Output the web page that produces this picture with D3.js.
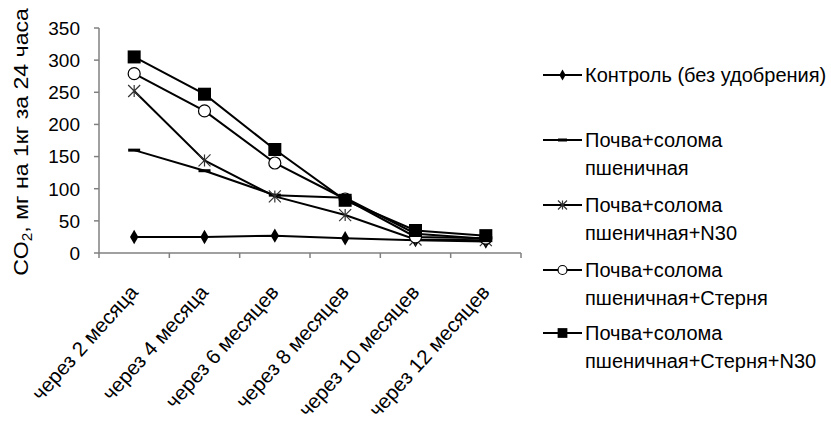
<!DOCTYPE html>
<html>
<head>
<meta charset="utf-8">
<script src="https://cdn.jsdelivr.net/npm/d3@7"></script>
<style>
  body { margin: 0; background: #fff; }
  text { font-family: "Liberation Sans", Arial, sans-serif; fill: #000; }
</style>
</head>
<body>
<div id="chart"></div>
<script>
// Data
const categories = ["через 2 месяца", "через 4 месяца", "через 6 месяцев", "через 8 месяцев", "через 10 месяцев", "через 12 месяцев"];
const control = [25, 25, 27, 23, 20, 18];
const straw = [160, 128, 90, 86, 30, 22];
const strawN30 = [252, 144, 88, 59, 21, 20];
const strawStubble = [279, 221, 140, 84, 25, 23];
const strawStubbleN30 = [305, 247, 161, 82, 35, 27];
const seriesNames = [
  ["Контроль (без удобрения)"],
  ["Почва+солома", "пшеничная"],
  ["Почва+солома", "пшеничная+N30"],
  ["Почва+солома", "пшеничная+Стерня"],
  ["Почва+солома", "пшеничная+Стерня+N30"]
];
const yTicks = [0, 50, 100, 150, 200, 250, 300, 350];

const series = [
  { name: seriesNames[0], values: control, marker: "diamond" },
  { name: seriesNames[1], values: straw, marker: "dash" },
  { name: seriesNames[2], values: strawN30, marker: "star" },
  { name: seriesNames[3], values: strawStubble, marker: "circle" },
  { name: seriesNames[4], values: strawStubbleN30, marker: "square" }
];

// Config
const width = 831, height = 425;
const plot = { left: 99, right: 521, top: 28, bottom: 253 };

const svg = d3.select("#chart").append("svg")
  .attr("width", width)
  .attr("height", height);

const x = d3.scaleBand().domain(categories).range([plot.left, plot.right]);
const y = d3.scaleLinear().domain([0, 350]).range([plot.bottom, plot.top]);

// Axes
const axisColor = "#808080";
svg.append("line")
  .attr("x1", plot.left).attr("x2", plot.left)
  .attr("y1", y(350)).attr("y2", y(0))
  .attr("stroke", axisColor).attr("stroke-width", 1.5);
svg.append("line")
  .attr("x1", plot.left).attr("x2", plot.right)
  .attr("y1", y(0)).attr("y2", y(0))
  .attr("stroke", axisColor).attr("stroke-width", 1.5);

svg.selectAll(".ytick").data(yTicks).join("line")
  .attr("x1", plot.left - 5).attr("x2", plot.left)
  .attr("y1", d => y(d)).attr("y2", d => y(d))
  .attr("stroke", axisColor).attr("stroke-width", 1.5);

svg.selectAll(".ylabel").data(yTicks).join("text")
  .attr("x", plot.left - 19)
  .attr("y", d => y(d))
  .attr("dy", "0.36em")
  .attr("text-anchor", "end")
  .style("font-size", "19px")
  .text(d => d);

const xTickPos = categories.map(c => x(c)).concat([plot.right]);
svg.selectAll(".xtick").data(xTickPos).join("line")
  .attr("x1", d => d).attr("x2", d => d)
  .attr("y1", y(0)).attr("y2", y(0) + 5)
  .attr("stroke", axisColor).attr("stroke-width", 1.5);

svg.selectAll(".xlabel").data(categories).join("text")
  .attr("text-anchor", "end")
  .attr("transform", d => `translate(${x(d) + x.bandwidth() / 2 + 5}, ${y(0) + 40}) rotate(-48)`)
  .style("font-size", "20.5px")
  .text(d => d);

// Y title (reference is slightly stretched vertically)
const yTitle = svg.append("text")
  .attr("transform", `translate(28, 142) scale(1, 1.1) rotate(-90)`)
  .attr("text-anchor", "middle")
  .style("font-size", "21px");
yTitle.append("tspan").text("CO");
yTitle.append("tspan").attr("dy", 4).style("font-size", "14px").text("2");
yTitle.append("tspan").attr("dy", -4).text(", мг на 1кг за 24 часа");

// Markers
function drawMarker(g, type, size) {
  const s = size || 1;
  if (type === "diamond") {
    g.append("path").attr("d", d3.symbol(d3.symbolDiamond, 60 * s * s)()).attr("fill", "#000");
  } else if (type === "dash") {
    g.append("rect").attr("x", -6 * s).attr("y", -1.5).attr("width", 12 * s).attr("height", 3).attr("fill", "#000");
  } else if (type === "star") {
    const r = 6 * s;
    g.append("path")
      .attr("d", `M${-r},${-r}L${r},${r}M${-r},${r}L${r},${-r}M0,${-r}L0,${r}`)
      .attr("stroke", "#333").attr("stroke-width", 1.2).attr("fill", "none");
  } else if (type === "circle") {
    g.append("circle").attr("r", 6 * s).attr("fill", "#fff").attr("stroke", "#000").attr("stroke-width", 1.2);
  } else if (type === "square") {
    g.append("rect").attr("x", -6.5 * s).attr("y", -6.5 * s).attr("width", 13 * s).attr("height", 13 * s).attr("fill", "#000");
  }
}

const line = d3.line()
  .x((d, i) => x(categories[i]) + x.bandwidth() / 2)
  .y(d => y(d));

series.forEach(s => {
  svg.append("path")
    .datum(s.values)
    .attr("d", line)
    .attr("fill", "none")
    .attr("stroke", "#000")
    .attr("stroke-width", 2);
});

series.forEach(s => {
  s.values.forEach((v, i) => {
    const g = svg.append("g")
      .attr("transform", `translate(${x(categories[i]) + x.bandwidth() / 2}, ${y(v)})`);
    drawMarker(g, s.marker, 1);
  });
});

// Legend
const legendRows = [75, 140, 205, 270, 333];
series.forEach((s, i) => {
  const ly = legendRows[i];
  svg.append("line")
    .attr("x1", 543).attr("x2", 582)
    .attr("y1", ly).attr("y2", ly)
    .attr("stroke", "#000").attr("stroke-width", 2);
  const g = svg.append("g").attr("transform", `translate(562.5, ${ly})`);
  drawMarker(g, s.marker, 0.75);
  const t = svg.append("text")
    .attr("x", 585)
    .attr("y", ly)
    .style("font-size", "20px");
  s.name.forEach((n, k) => {
    t.append("tspan").attr("x", 585).attr("dy", k === 0 ? "0.36em" : 28).text(n);
  });
});
</script>
</body>
</html>
